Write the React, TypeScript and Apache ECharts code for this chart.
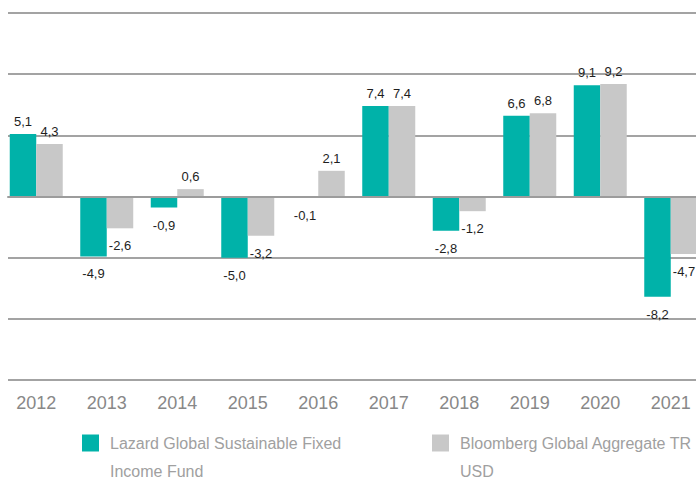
import React, { useEffect, useRef } from 'react';
import * as echarts from 'echarts';

const years = ['2012', '2013', '2014', '2015', '2016', '2017', '2018', '2019', '2020', '2021'];
const lazardFund = [5.1, -4.9, -0.9, -5.0, -0.1, 7.4, -2.8, 6.6, 9.1, -8.2];
const bloombergIndex = [4.3, -2.6, 0.6, -3.2, 2.1, 7.4, -1.2, 6.8, 9.2, -4.7];
const seriesNames = ['Lazard Global Sustainable Fixed Income Fund', 'Bloomberg Global Aggregate TR USD'];
const legendLines = [
  ['Lazard Global Sustainable Fixed', 'Income Fund'],
  ['Bloomberg Global Aggregate TR', 'USD'],
];
const yMin = -15;
const yMax = 15;
const yStep = 5;

const FONT = '"Liberation Sans", Arial, sans-serif';

export default function App() {
  const ref = useRef<HTMLDivElement>(null);
  useEffect(() => {
    const chart = echarts.init(ref.current!, null, { renderer: 'svg' });
    const fmt = (v: number) => v.toFixed(1).replace('.', ',');
    const mk = (vals: number[]) =>
      vals.map((v) => ({
        value: v,
        label: { position: v >= 0 ? 'top' : 'bottom', distance: v >= 0 ? 6 : 11 },
      }));
    const labelStyle = {
      show: true,
      color: '#1e1e1e',
      fontSize: 13,
      fontFamily: FONT,
      formatter: (p: any) => fmt(p.value),
    };
    const legendFont = { color: '#a0a0a0', fontSize: 16, fontFamily: FONT };
    const legendCommon = {
      top: 434.5,
      itemWidth: 17,
      itemHeight: 29,
      icon: 'path://M0,0h17v17h-17z M0,29h0',
      padding: 0,
      selectedMode: false,
      textStyle: {
        ...legendFont,
        padding: [0, 0, 0, 6],
        rich: {
          a: { ...legendFont, lineHeight: 44 },
          b: { ...legendFont, lineHeight: 12 },
        },
      },
      formatter: (name: string) => {
        const lines = legendLines[seriesNames.indexOf(name)];
        return `{a|${lines[0]}}\n{b|${lines[1]}}`;
      },
    };
    chart.setOption({
      animation: false,
      backgroundColor: '#ffffff',
      grid: [
        { left: 1, top: 13, width: 705, height: 367, outerBoundsMode: 'none', containLabel: false },
        { left: 8, right: 0, top: 13, height: 367, outerBoundsMode: 'none', containLabel: false },
      ],
      legend: [
        { ...legendCommon, left: 82, data: [seriesNames[0]] },
        { ...legendCommon, left: 432, data: [seriesNames[1]] },
      ],
      xAxis: [
        {
          type: 'category',
          gridIndex: 0,
          data: years,
          axisLine: { show: false },
          axisTick: { show: false },
          axisLabel: { color: '#888888', fontSize: 18, fontFamily: FONT, margin: 14 },
        },
        {
          type: 'value',
          gridIndex: 1,
          min: 0,
          max: 1,
          z: 5,
          axisLine: { show: true, onZero: true, lineStyle: { color: '#9c9c9c', width: 2 } },
          axisTick: { show: false },
          axisLabel: { show: false },
          splitLine: { show: false },
        },
      ],
      yAxis: [
        {
          type: 'value',
          gridIndex: 0,
          min: yMin,
          max: yMax,
          interval: yStep,
          axisLine: { show: false },
          axisTick: { show: false },
          axisLabel: { show: false },
          splitLine: { show: false },
        },
        {
          type: 'value',
          gridIndex: 1,
          min: yMin,
          max: yMax,
          interval: yStep,
          axisLine: { show: false },
          axisTick: { show: false },
          axisLabel: { show: false },
          splitLine: { show: true, lineStyle: { color: '#a3a3a3', width: 2 } },
        },
      ],
      series: [
        {
          name: seriesNames[0],
          type: 'bar',
          xAxisIndex: 0,
          yAxisIndex: 0,
          data: mk(lazardFund),
          barWidth: 26.5,
          barGap: '0%',
          itemStyle: { color: '#00b2a9' },
          label: labelStyle,
        },
        {
          name: seriesNames[1],
          type: 'bar',
          xAxisIndex: 0,
          yAxisIndex: 0,
          data: mk(bloombergIndex),
          barWidth: 26.5,
          barGap: '0%',
          itemStyle: { color: '#c8c8c8' },
          label: labelStyle,
        },
      ],
    });
    return () => chart.dispose();
  }, []);
  return <div ref={ref} style={{ position: 'absolute', left: 0, top: 0, width: 696, height: 478 }} />;
}
